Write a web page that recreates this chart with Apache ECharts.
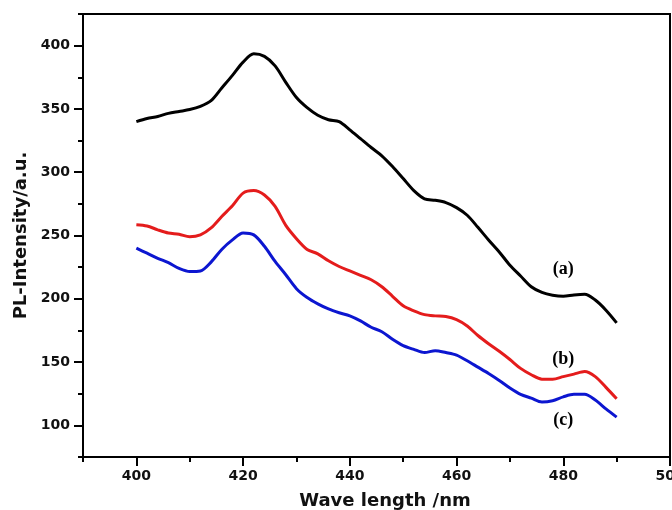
<!DOCTYPE html>
<html>
<head>
<meta charset="utf-8">
<script src="https://cdn.jsdelivr.net/npm/echarts@6/dist/echarts.min.js"></script>
<style>html,body{margin:0;padding:0;background:#fff;}#chart{width:672px;height:510px;}</style>
</head>
<body>
<div id="chart"></div>
<script>
// Wavelength (nm)
var wavelengths = [400,402,404,406,408,410,412,414,416,418,420,422,424,426,428,430,432,434,436,438,440,442,444,446,448,450,452,454,456,458,460,462,464,466,468,470,472,474,476,478,480,482,484,486,488,490];
// (a) black
var seriesA = [340,342.5,344,346.5,348,349.5,352,356.5,366.5,376.5,387,393.5,391.5,384,371,359,351,345,341.5,340,333.5,326.5,319.5,313,304.5,295,285.5,279,277.8,276,272,266,256.5,246.5,237,226.5,218,209.5,205,202.8,202,203,203.5,199,191,181];
// (b) red
var seriesB = [258.5,257.5,254.5,252,251,249,250.5,256,265,273.5,283.5,285.5,282,273,258,247.5,239,235.5,230,225.5,222,218.5,215,209.5,202,194.5,190.5,187.5,186.5,186,183.5,178.5,171,164.5,158.5,152,145,140,136.5,136.5,138.5,140.5,142.5,138.5,130,121];
// (c) blue
var seriesC = [240,236,232,228.5,224,221.5,222,229,239,246.5,252,250.5,241.5,229.5,219,208,201,196,192,189,186.5,182.5,177.5,174,168,163,160,157.5,159,157.5,155.5,151,146,141,135.5,129.5,124.5,121.5,118.5,119.5,122.5,124.5,124.5,120,113,106.5];
var xTicks = [400,420,440,460,480,500];
var yTicks = [100,150,200,250,300,350,400];
var annText = ['(a)','(b)','(c)'];
var annX = [480,480,480];
var annY = [223,152,104];

function pairs(xs, ys){ return xs.map(function(x,i){ return [x, ys[i]]; }); }

var chart = echarts.init(document.getElementById('chart'));
var axisLine = {show:true, onZero:false, lineStyle:{color:'#000', width:2}};
var lblFont = {color:'#111', fontFamily:'DejaVu Sans', fontWeight:'bold', fontSize:14};
var option = {
  backgroundColor:'#fff',
  animation:false,
  grid:{left:83, right:2, top:14, bottom:53, outerBoundsMode:'none', containLabel:false, show:true, borderColor:'#000', borderWidth:2, backgroundColor:'transparent'},
  xAxis:[
    {type:'value', min:390, max:500, interval:10, position:'bottom',
     axisLine:axisLine, axisTick:{show:true, length:5, lineStyle:{color:'#000', width:2}},
     axisLabel:{show:false}, splitLine:{show:false}},
    {type:'value', min:390, max:500, position:'bottom',
     axisLine:axisLine,
     axisTick:{show:true, length:9, customValues:xTicks, lineStyle:{color:'#000', width:2}},
     axisLabel:Object.assign({show:true, customValues:xTicks, margin:12}, lblFont),
     splitLine:{show:false},
     name:'Wave length /nm', nameLocation:'middle', nameGap:35,
     nameTextStyle:{color:'#111', fontFamily:'DejaVu Sans', fontWeight:'bold', fontSize:18, padding:[0,0,0,17]}}
  ],
  yAxis:[
    {type:'value', min:75, max:425, interval:25, position:'left',
     axisLine:axisLine, axisTick:{show:true, length:5, lineStyle:{color:'#000', width:2}},
     axisLabel:{show:false}, splitLine:{show:false}},
    {type:'value', min:75, max:425, position:'left',
     axisLine:axisLine,
     axisTick:{show:true, length:9, customValues:yTicks, lineStyle:{color:'#000', width:2}},
     axisLabel:Object.assign({show:true, customValues:yTicks, margin:13}, lblFont),
     splitLine:{show:false},
     name:'PL-Intensity/a.u.', nameLocation:'middle', nameGap:52,
     nameTextStyle:{color:'#111', fontFamily:'DejaVu Sans', fontWeight:'bold', fontSize:18}}
  ],
  series:[
    {type:'line', data:pairs(wavelengths, seriesA), xAxisIndex:0, yAxisIndex:0, smooth:0.3, showSymbol:false, lineStyle:{color:'#000', width:3}},
    {type:'line', data:pairs(wavelengths, seriesB), xAxisIndex:0, yAxisIndex:0, smooth:0.3, showSymbol:false, lineStyle:{color:'#e41c1c', width:3}},
    {type:'line', data:pairs(wavelengths, seriesC), xAxisIndex:0, yAxisIndex:0, smooth:0.3, showSymbol:false, lineStyle:{color:'#0c16d0', width:3}},
    {type:'scatter', xAxisIndex:0, yAxisIndex:0, symbolSize:1, itemStyle:{opacity:0}, silent:true,
     data:annText.map(function(t,i){ return {value:[annX[i], annY[i]], name:t}; }),
     label:{show:true, position:'inside', formatter:function(p){return p.name;}, color:'#000', opacity:1, fontFamily:'Liberation Serif', fontWeight:'bold', fontSize:18}}
  ]
};
chart.setOption(option);
</script>
</body>
</html>
